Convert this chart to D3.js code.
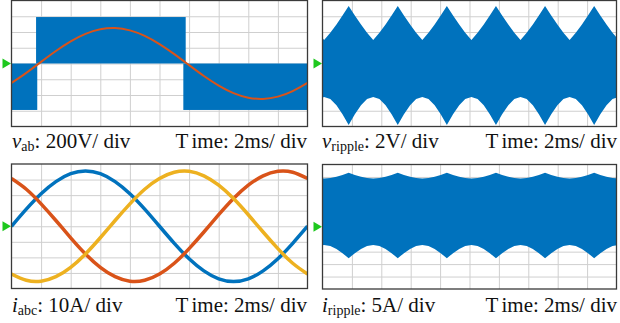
<!DOCTYPE html>
<html><head><meta charset="utf-8">
<script src="https://cdn.jsdelivr.net/npm/d3@7"></script>
<style>body{margin:0;background:#fff;} svg{display:block;}</style>
</head><body><svg id="c" width="620" height="323"></svg>
<script>
// ---------- DATA ----------
const timeTicks = [0, 2, 4, 6, 8, 10, 12, 14, 16, 18, 20]; // ms, 2 ms/div
const sineTime = [0,1,2,3,4,5,6,7,8,9,10,11,12,13,14,15,16,17,18,19,20]; // ms

// panel 1: v_ab (V)
const vabRef = [-247,-119,21,159,281,376,434,450,421,351,247,119,-21,-159,-281,-376,-434,-450,-421,-351,-247];
const vabPwmStart = [0, 1.66, 11.61];
const vabPwmEnd   = [1.74, 11.77, 20];
const vabPwmHigh  = [0, 590, 0];
const vabPwmLow   = [-590, 0, -590];

// panels 2 & 4: ripple envelopes
const rippleTime = [-1.56,-1.14,-0.73,-0.31,0.11,0.53,0.95,1.36,1.78,2.20,2.62,3.03,3.45,3.87,4.29,4.70,5.12,5.54,5.96,6.37,6.79,7.21,7.63,8.04,8.46,8.88,9.30,9.71,10.13,10.55,10.97,11.38,11.80,12.22,12.64,13.05,13.47,13.89,14.31,14.72,15.14,15.56,15.98,16.39,16.81,17.23,17.65,18.06,18.48,18.90,19.32,19.73,20.15];
const vRippleUpper = [7.30,6.09,4.96,3.92,2.97,3.92,4.96,6.09, 7.30,6.09,4.96,3.92,2.97,3.92,4.96,6.09, 7.30,6.09,4.96,3.92,2.97,3.92,4.96,6.09, 7.30,6.09,4.96,3.92,2.97,3.92,4.96,6.09, 7.30,6.09,4.96,3.92,2.97,3.92,4.96,6.09, 7.30,6.09,4.96,3.92,2.97,3.92,4.96,6.09, 7.30,6.09,4.96,3.92,2.97];
const vRippleLower = [-7.80,-6.44,-5.29,-4.52,-4.25,-4.52,-5.29,-6.44, -7.80,-6.44,-5.29,-4.52,-4.25,-4.52,-5.29,-6.44, -7.80,-6.44,-5.29,-4.52,-4.25,-4.52,-5.29,-6.44, -7.80,-6.44,-5.29,-4.52,-4.25,-4.52,-5.29,-6.44, -7.80,-6.44,-5.29,-4.52,-4.25,-4.52,-5.29,-6.44, -7.80,-6.44,-5.29,-4.52,-4.25,-4.52,-5.29,-6.44, -7.80,-6.44,-5.29,-4.52,-4.25];
const iRippleUpper = [21.7,20.8,20.1,19.6,19.4,19.6,20.1,20.8, 21.7,20.8,20.1,19.6,19.4,19.6,20.1,20.8, 21.7,20.8,20.1,19.6,19.4,19.6,20.1,20.8, 21.7,20.8,20.1,19.6,19.4,19.6,20.1,20.8, 21.7,20.8,20.1,19.6,19.4,19.6,20.1,20.8, 21.7,20.8,20.1,19.6,19.4,19.6,20.1,20.8, 21.7,20.8,20.1,19.6,19.4];
const iRippleLower = [-12.7,-10.6,-8.9,-7.7,-7.3,-7.7,-8.9,-10.6, -12.7,-10.6,-8.9,-7.7,-7.3,-7.7,-8.9,-10.6, -12.7,-10.6,-8.9,-7.7,-7.3,-7.7,-8.9,-10.6, -12.7,-10.6,-8.9,-7.7,-7.3,-7.7,-8.9,-10.6, -12.7,-10.6,-8.9,-7.7,-7.3,-7.7,-8.9,-10.6, -12.7,-10.6,-8.9,-7.7,-7.3,-7.7,-8.9,-10.6, -12.7,-10.6,-8.9,-7.7,-7.3];

// panel 3: three-phase currents (A)
const iA = [0,11.0,20.9,28.7,33.8,35.5,33.8,28.7,20.9,11.0,0,-11.0,-20.9,-28.7,-33.8,-35.5,-33.8,-28.7,-20.9,-11.0,0];
const iB = [30.7,23.8,14.4,3.7,-7.4,-17.8,-26.4,-32.4,-35.3,-34.7,-30.7,-23.8,-14.4,-3.7,7.4,17.8,26.4,32.4,35.3,34.7,30.7];
const iC = [-30.7,-34.7,-35.3,-32.4,-26.4,-17.8,-7.4,3.7,14.4,23.8,30.7,34.7,35.3,32.4,26.4,17.8,7.4,-3.7,-14.4,-23.8,-30.7];

// labels
const labelSymbol = ["v", "v", "i", "i"];
const labelSub = ["ab", "ripple", "abc", "ripple"];
const labelScale = [": 200V/ div", ": 2V/ div", ": 10A/ div", ": 5A/ div"];
const timeLabelFirst = "T";
const timeLabelRest = "ime: 2ms/ div";

// ---------- DRAW ----------
const BLUE = "#0072BD", ORANGE = "#D95319", YELLOW = "#EDB120";
const svg = d3.select("#c");

function makePanel(idx, x0, y0, w, h, nDivY, perDiv) {
  const g = svg.append("g").attr("transform", `translate(${x0},${y0})`);
  const x = d3.scaleLinear().domain([0, 20]).range([0, w]);
  const half = nDivY / 2 * perDiv;
  const y = d3.scaleLinear().domain([-half, half]).range([h, 0]);
  const clipId = "clip" + idx;
  g.append("clipPath").attr("id", clipId).append("rect").attr("width", w).attr("height", h);
  g.append("g").attr("class", "grid")
    .call(d3.axisBottom(x).tickValues(timeTicks.slice(1, -1)).tickSize(h).tickFormat(""));
  const yTicks = d3.range(-nDivY / 2 + 1, nDivY / 2).map(k => k * perDiv);
  g.append("g").attr("class", "grid")
    .call(d3.axisLeft(y).tickValues(yTicks).tickSize(-w).tickFormat(""));
  g.selectAll(".grid .domain").remove();
  g.selectAll(".grid line").attr("stroke", "#cfcfcf").attr("stroke-width", 1);
  const plot = g.append("g").attr("clip-path", `url(#${clipId})`);
  return { g, x, y, w, h, plot };
}

function finishPanel(p) {
  p.g.append("rect").attr("width", p.w).attr("height", p.h)
    .attr("fill", "none").attr("stroke", "#3a3a3a").attr("stroke-width", 1.3);
  const yz = p.y(0);
  p.g.append("path")
    .attr("d", `M${-9},${yz - 5}L${-0.5},${yz}L${-9},${yz + 5}Z`)
    .attr("fill", "#1ec81e");
}

function drawLabel(i, xLeft, xRight, yBase) {
  const font = "'Liberation Serif', 'Times New Roman', serif";
  const t = svg.append("text").attr("x", xLeft).attr("y", yBase)
    .attr("font-family", font).attr("font-size", 21).attr("fill", "#111");
  t.append("tspan").attr("font-style", "italic").text(labelSymbol[i]);
  t.append("tspan").attr("font-size", 14).attr("dy", 3).text(labelSub[i]);
  t.append("tspan").attr("dy", -3).text(labelScale[i]);
  const r = svg.append("text").attr("x", xRight).attr("y", yBase).attr("text-anchor", "end")
    .attr("font-family", font).attr("font-size", 21).attr("fill", "#111");
  r.append("tspan").text(timeLabelFirst);
  r.append("tspan").attr("dx", 4).text(timeLabelRest);
}

// Panel 1
{
  const p = makePanel(1, 11.5, 0.5, 296, 126, 8, 200);
  const segs = vabPwmStart.map((s, i) => ({ s, e: vabPwmEnd[i], hi: vabPwmHigh[i], lo: vabPwmLow[i] }));
  p.plot.selectAll("rect.pwm").data(segs).join("rect").attr("class", "pwm")
    .attr("x", d => p.x(d.s)).attr("width", d => p.x(d.e) - p.x(d.s))
    .attr("y", d => p.y(d.hi)).attr("height", d => p.y(d.lo) - p.y(d.hi))
    .attr("fill", BLUE);
  p.plot.append("path").datum(sineTime.map((t, i) => [t, vabRef[i]]))
    .attr("d", d3.line().x(d => p.x(d[0])).y(d => p.y(d[1])).curve(d3.curveNatural))
    .attr("fill", "none").attr("stroke", ORANGE).attr("stroke-width", 2);
  finishPanel(p);
}
// Panel 2
{
  const p = makePanel(2, 322.5, 0.5, 294, 126, 8, 2);
  p.plot.append("path").datum(rippleTime.map((t, i) => [t, vRippleLower[i], vRippleUpper[i]]))
    .attr("d", d3.area().x(d => p.x(d[0])).y0(d => p.y(d[1])).y1(d => p.y(d[2])))
    .attr("fill", BLUE);
  finishPanel(p);
}
// Panel 3
{
  const p = makePanel(3, 11.5, 164, 296, 124.5, 8, 10);
  const line = d3.line().x(d => p.x(d[0])).y(d => p.y(d[1])).curve(d3.curveNatural);
  [[iA, BLUE], [iB, ORANGE], [iC, YELLOW]].forEach(([arr, col]) => {
    p.plot.append("path").datum(sineTime.map((t, i) => [t, arr[i]]))
      .attr("d", line).attr("fill", "none").attr("stroke", col).attr("stroke-width", 3.5);
  });
  finishPanel(p);
}
// Panel 4
{
  const p = makePanel(4, 322.5, 164.5, 294, 124.5, 10, 5);
  p.plot.append("path").datum(rippleTime.map((t, i) => [t, iRippleLower[i], iRippleUpper[i]]))
    .attr("d", d3.area().x(d => p.x(d[0])).y0(d => p.y(d[1])).y1(d => p.y(d[2])))
    .attr("fill", BLUE);
  finishPanel(p);
}

drawLabel(0, 12, 307, 148);
drawLabel(1, 322, 617, 148);
drawLabel(2, 12, 307, 312);
drawLabel(3, 322, 617, 312);
</script>
</body></html>
